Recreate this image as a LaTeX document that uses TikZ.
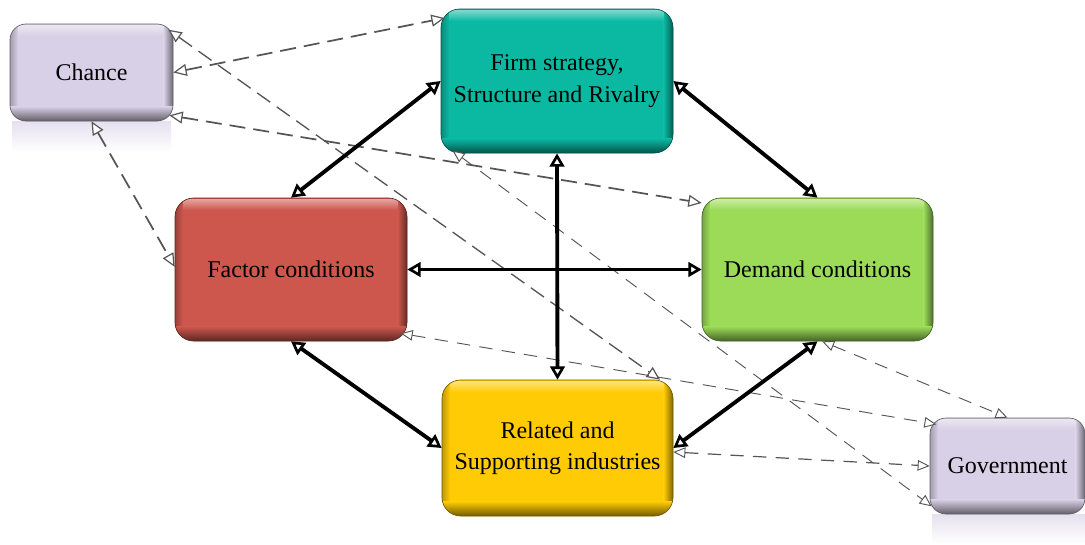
\documentclass[tikz,border=0pt]{standalone}
\usepackage{fontspec}
\setmainfont{Liberation Serif}
\usetikzlibrary{arrows.meta,calc}
\definecolor{chancec}{HTML}{D8D0E6}
\definecolor{firmc}{HTML}{0BB9A3}
\definecolor{factorc}{HTML}{CD574C}
\definecolor{demandc}{HTML}{9CDB58}
\definecolor{relatedc}{HTML}{FFCB05}
\definecolor{dgray}{HTML}{555555}
\tikzset{
  bevel/.style={draw=#1!45!black, line width=0.5pt, fill=#1, rounded corners=14pt,
    inner sep=0pt, align=center, font=\fontsize{18}{23.5}\selectfont,
    path picture={
      \coordinate (bbsw) at (path picture bounding box.south west);
      \coordinate (bbne) at (path picture bounding box.north east);
      \shade[sharp corners, left color=#1!75!black, right color=#1]
        (bbsw) rectangle ($(bbsw |- bbne)+(6pt,0)$);
      \shade[sharp corners, left color=#1, right color=#1!50!black]
        ($(bbne |- bbsw)+(-7pt,0)$) rectangle (bbne);
      \shade[sharp corners, top color=#1, bottom color=#1!45!black]
        (bbsw) rectangle ($(bbne |- bbsw)+(0,11pt)$);
      \shade[sharp corners, top color=#1!55!white, bottom color=#1]
        ($(bbsw |- bbne)+(6pt,-1pt)$) rectangle ($(bbne)+(-7pt,-9pt)$);
    }},
  bigarr/.style={line width=2.9pt, black,
    {Triangle[fill=white,length=10pt,width=11pt,line width=2pt]}-{Triangle[fill=white,length=10pt,width=11pt,line width=2pt]}},
  dasharr/.style={draw=dgray, line width=1.3pt, dash pattern=on 12pt off 6pt,
    {Triangle[fill=white,length=10pt,width=9pt,line width=0.9pt]}-{Triangle[fill=white,length=10pt,width=9pt,line width=0.9pt]}},
  thinarr/.style={draw=dgray, line width=0.7pt, dash pattern=on 10pt off 7pt,
    {Triangle[fill=white,length=9pt,width=8pt,line width=0.7pt]}-{Triangle[fill=white,length=9pt,width=8pt,line width=0.7pt]}},
}
\begin{document}
\begin{tikzpicture}[x=0.75pt,y=-0.75pt]
\useasboundingbox (0,0) rectangle (1085,544);
% reflections
\shade[top color=chancec!65!white, bottom color=white] (12,121) rectangle (171,152);
\shade[top color=chancec!65!white, bottom color=white] (932,514) rectangle (1085,544);
% boxes
\node[bevel=chancec, rounded corners=12pt, minimum width=122.25pt, minimum height=72.75pt] (chance) at (91.5,72.5) {Chance};
\node[bevel=firmc, minimum width=174pt, minimum height=108pt] (firm) at (557,81) {Firm strategy,\\Structure and Rivalry};
\node[bevel=factorc, minimum width=174pt, minimum height=107.25pt] (factor) at (291,269.5) {Factor conditions};
\node[bevel=demandc, minimum width=173.25pt, minimum height=107.25pt] (demand) at (817.5,269.5) {Demand conditions};
\node[bevel=relatedc, minimum width=173.25pt, minimum height=102pt] (related) at (557.5,448) {Related and\\Supporting industries};
\node[bevel=chancec, rounded corners=12pt, minimum width=116.25pt, minimum height=72pt] (gov) at (1007.5,466) {Government};
% dashed connectors
\draw[dasharr] (chance.east) -- ([xshift=3pt,yshift=-7pt]firm.north west);
\draw[dasharr] ([xshift=-3pt,yshift=4.5pt]chance.south east) -- ([yshift=-4pt]demand.north west);
\draw[dasharr, line width=1pt] ([xshift=-3.75pt,yshift=-4.5pt]chance.north east) -- ([xshift=-10pt]related.north east);
\draw[dasharr] (chance.south) -- ([yshift=2pt]factor.west);
\draw[thinarr] ([xshift=9pt,yshift=2pt]firm.south west) -- ([xshift=1.5pt,yshift=6pt]gov.south west);
\draw[thinarr] ([xshift=-5pt,yshift=6pt]factor.south east) -- ([xshift=5pt,yshift=-5pt]gov.north west);
\draw[thinarr] ([xshift=3.5pt]demand.south) -- (gov.north);
\draw[thinarr, line width=0.9pt] ([yshift=-3pt]related.east) -- (gov.west);
% solid connectors
\draw[bigarr] (firm.west) -- (factor.north);
\draw[bigarr] (firm.east) -- (demand.north);
\draw[bigarr] (firm.south) -- (related.north);
\draw[bigarr] (factor.east) -- (demand.west);
\draw[bigarr] (factor.south) -- (related.west);
\draw[bigarr] (demand.south) -- (related.east);
\end{tikzpicture}
\end{document}
